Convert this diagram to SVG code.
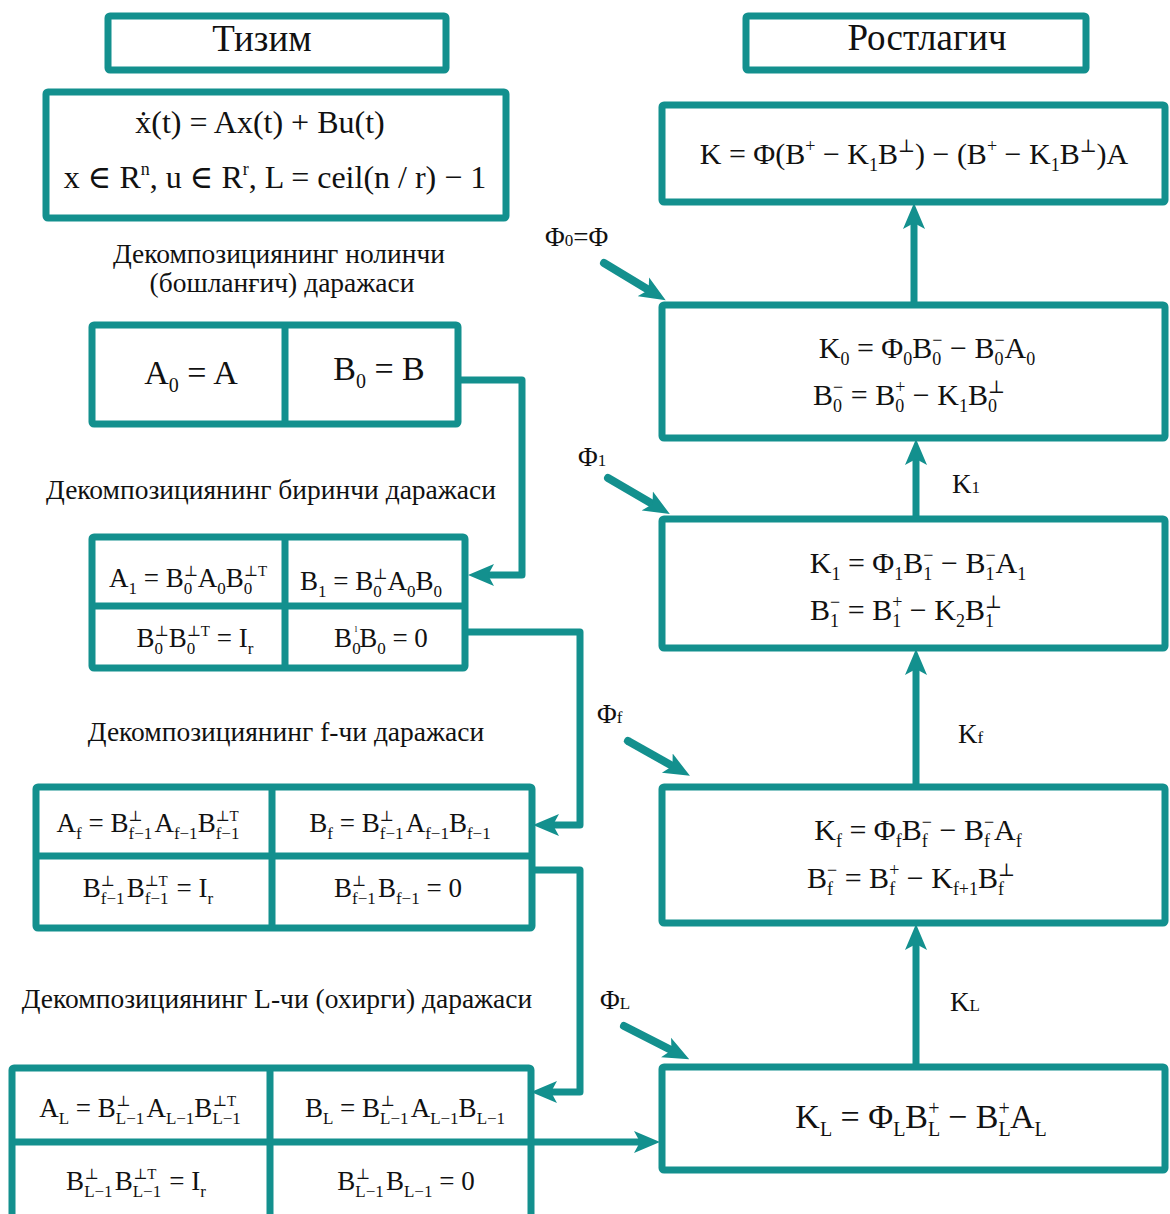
<svg xmlns="http://www.w3.org/2000/svg" width="1170" height="1214" viewBox="0 0 1170 1214">
<style>
.bx{fill:#fff;stroke:#13908e;stroke-width:7;stroke-linejoin:round}
.dv{fill:none;stroke:#13908e;stroke-width:7}
.ln{fill:none;stroke:#13908e;stroke-width:7;stroke-linejoin:round}
.dg{fill:none;stroke:#13908e;stroke-width:8;stroke-linecap:round}
text{font-family:"Liberation Serif","DejaVu Serif",serif;fill:#111}
.t36{font-size:37px}
.h{font-size:27.5px}
.fm{font-size:30px}
.ix{font-size:18px}
.fk{font-size:32px}
.fL{font-size:34px}
.iL{font-size:20px}
.fa{font-size:34px}
.ia{font-size:20px}
.fl{font-size:27px}
.ls{font-size:17px}
.lp{font-size:15px}
.lb{font-size:27px}
.lbs{font-size:17px}
</style>
<defs>
<marker id="ah" markerUnits="userSpaceOnUse" markerWidth="26" markerHeight="24" viewBox="0 0 26 24" refX="10" refY="12" orient="auto">
<path d="M0,1 L26,12 L0,23 L6,12 z" fill="#13908e"/>
</marker>
</defs>

<g id="connectors">
<polyline class="ln" points="458,380 522,380 522,575 484,575" marker-end="url(#ah)"/>
<polyline class="ln" points="465,632 580,632 580,825 549,825" marker-end="url(#ah)"/>
<polyline class="ln" points="532,870 580,870 580,1092 547,1092" marker-end="url(#ah)"/>
<line class="ln" x1="531" y1="1142" x2="644" y2="1142" marker-end="url(#ah)"/>
<line class="ln" x1="914" y1="305" x2="914" y2="219" marker-end="url(#ah)"/>
<line class="ln" x1="916" y1="519" x2="916" y2="455" marker-end="url(#ah)"/>
<line class="ln" x1="916" y1="787" x2="916" y2="665" marker-end="url(#ah)"/>
<line class="ln" x1="916" y1="1067" x2="916" y2="940" marker-end="url(#ah)"/>
<line class="dg" x1="604" y1="263" x2="652" y2="292" marker-end="url(#ah)"/>
<line class="dg" x1="608" y1="478" x2="656" y2="506" marker-end="url(#ah)"/>
<line class="dg" x1="628" y1="741" x2="676" y2="768" marker-end="url(#ah)"/>
<line class="dg" x1="624" y1="1026" x2="675" y2="1052" marker-end="url(#ah)"/>
</g>

<g id="tizim">
<rect class="bx" x="108" y="16" width="338" height="54" rx="2"/>
<text class="t36" x="262" y="51" text-anchor="middle">Тизим</text>
</g>

<g id="rostlagich">
<rect class="bx" x="746" y="16" width="340" height="54" rx="2"/>
<text class="t36" x="927" y="50" text-anchor="middle">Ростлагич</text>
</g>

<g id="system">
<rect class="bx" x="46" y="92" width="460" height="126" rx="2"/>
<text class="fk" x="260" y="133" text-anchor="middle">ẋ(t) = Ax(t) + Bu(t)</text>
<text class="fk" x="275" y="188" text-anchor="middle">x ∈ R<tspan class="ix" dy="-13">n</tspan><tspan dy="13">, u ∈ R</tspan><tspan class="ix" dy="-13">r</tspan><tspan dy="13">, L = ceil(n / r) − 1</tspan></text>
</g>

<g id="label-level0">
<text class="h" x="279" y="263" text-anchor="middle">Декомпозициянинг нолинчи</text>
<text class="h" x="282" y="292" text-anchor="middle">(бошланғич) даражаси</text>
</g>

<g id="level0">
<rect class="bx" x="92" y="325" width="366" height="99" rx="2"/>
<line class="dv" x1="285" y1="325" x2="285" y2="424"/>
<text class="fa" x="191" y="384" text-anchor="middle">A<tspan class="ia" dy="8">0</tspan><tspan dy="-8"> = A</tspan></text>
<text class="fa" x="379" y="380" text-anchor="middle">B<tspan class="ia" dy="8">0</tspan><tspan dy="-8"> = B</tspan></text>
</g>

<g id="label-level1">
<text class="h" x="271" y="499" text-anchor="middle">Декомпозициянинг биринчи даражаси</text>
</g>

<g id="level1">
<rect class="bx" x="92" y="537" width="373" height="131" rx="2"/>
<line class="dv" x1="285" y1="537" x2="285" y2="668"/>
<line class="dv" x1="92" y1="606" x2="465" y2="606"/>
<text class="fl" x="188" y="587" text-anchor="middle">A<tspan class="ls" dy="7">1</tspan><tspan dy="-7"> = B</tspan><tspan class="ls" dy="7">0</tspan><tspan class="lp" dx="-8.5" dy="-18">⊥</tspan><tspan dy="11">A</tspan><tspan class="ls" dy="7">0</tspan><tspan dy="-7">B</tspan><tspan class="ls" dy="7">0</tspan><tspan class="lp" dx="-8.5" dy="-18">⊥T</tspan></text>
<text class="fl" x="371" y="590" text-anchor="middle">B<tspan class="ls" dy="7">1</tspan><tspan dy="-7"> = B</tspan><tspan class="ls" dy="7">0</tspan><tspan class="lp" dx="-8.5" dy="-18">⊥</tspan><tspan dy="11">A</tspan><tspan class="ls" dy="7">0</tspan><tspan dy="-7">B</tspan><tspan class="ls" dy="7">0</tspan></text>
<text class="fl" x="195" y="647" text-anchor="middle">B<tspan class="ls" dy="7">0</tspan><tspan class="lp" dx="-8.5" dy="-18">⊥</tspan><tspan dy="11">B</tspan><tspan class="ls" dy="7">0</tspan><tspan class="lp" dx="-8.5" dy="-18">⊥T</tspan><tspan dy="11"> = I</tspan><tspan class="ls" dy="7">r</tspan></text>
<text class="fl" x="381" y="647" text-anchor="middle">B<tspan class="ls" dy="7">0</tspan><tspan class="lp" dx="-6" dy="-18">ˡ</tspan><tspan dx="2" dy="11">B</tspan><tspan class="ls" dy="7">0</tspan><tspan dy="-7"> = 0</tspan></text>
</g>

<g id="label-levelf">
<text class="h" x="286" y="741" text-anchor="middle">Декомпозициянинг f-чи даражаси</text>
</g>

<g id="levelf">
<rect class="bx" x="36" y="787" width="496" height="141" rx="2"/>
<line class="dv" x1="272" y1="787" x2="272" y2="928"/>
<line class="dv" x1="36" y1="856" x2="532" y2="856"/>
<text class="fl" x="148" y="832" text-anchor="middle">A<tspan class="ls" dy="7">f</tspan><tspan dy="-7"> = B</tspan><tspan class="ls" dy="7">f−1</tspan><tspan class="lp" dx="-24" dy="-18">⊥</tspan><tspan dx="12" dy="11">A</tspan><tspan class="ls" dy="7">f−1</tspan><tspan dy="-7">B</tspan><tspan class="ls" dy="7">f−1</tspan><tspan class="lp" dx="-24" dy="-18">⊥T</tspan></text>
<text class="fl" x="400" y="832" text-anchor="middle">B<tspan class="ls" dy="7">f</tspan><tspan dy="-7"> = B</tspan><tspan class="ls" dy="7">f−1</tspan><tspan class="lp" dx="-24" dy="-18">⊥</tspan><tspan dx="12" dy="11">A</tspan><tspan class="ls" dy="7">f−1</tspan><tspan dy="-7">B</tspan><tspan class="ls" dy="7">f−1</tspan></text>
<text class="fl" x="148" y="897" text-anchor="middle">B<tspan class="ls" dy="7">f−1</tspan><tspan class="lp" dx="-24" dy="-18">⊥</tspan><tspan dx="12" dy="11">B</tspan><tspan class="ls" dy="7">f−1</tspan><tspan class="lp" dx="-24" dy="-18">⊥T</tspan><tspan dx="2" dy="11"> = I</tspan><tspan class="ls" dy="7">r</tspan></text>
<text class="fl" x="398" y="897" text-anchor="middle">B<tspan class="ls" dy="7">f−1</tspan><tspan class="lp" dx="-24" dy="-18">⊥</tspan><tspan dx="12" dy="11">B</tspan><tspan class="ls" dy="7">f−1</tspan><tspan dy="-7"> = 0</tspan></text>
</g>

<g id="label-levelL">
<text class="h" x="277" y="1008" text-anchor="middle">Декомпозициянинг L-чи (охирги) даражаси</text>
</g>

<g id="levelL">
<rect class="bx" x="12" y="1068" width="519" height="160" rx="2"/>
<line class="dv" x1="270" y1="1068" x2="270" y2="1228"/>
<line class="dv" x1="12" y1="1142" x2="531" y2="1142"/>
<text class="fl" x="140" y="1117" text-anchor="middle">A<tspan class="ls" dy="7">L</tspan><tspan dy="-7"> = B</tspan><tspan class="ls" dy="7">L−1</tspan><tspan class="lp" dx="-28" dy="-18">⊥</tspan><tspan dx="16" dy="11">A</tspan><tspan class="ls" dy="7">L−1</tspan><tspan dy="-7">B</tspan><tspan class="ls" dy="7">L−1</tspan><tspan class="lp" dx="-28" dy="-18">⊥T</tspan></text>
<text class="fl" x="405" y="1117" text-anchor="middle">B<tspan class="ls" dy="7">L</tspan><tspan dy="-7"> = B</tspan><tspan class="ls" dy="7">L−1</tspan><tspan class="lp" dx="-28" dy="-18">⊥</tspan><tspan dx="16" dy="11">A</tspan><tspan class="ls" dy="7">L−1</tspan><tspan dy="-7">B</tspan><tspan class="ls" dy="7">L−1</tspan></text>
<text class="fl" x="136" y="1190" text-anchor="middle">B<tspan class="ls" dy="7">L−1</tspan><tspan class="lp" dx="-28" dy="-18">⊥</tspan><tspan dx="16" dy="11">B</tspan><tspan class="ls" dy="7">L−1</tspan><tspan class="lp" dx="-28" dy="-18">⊥T</tspan><tspan dx="6" dy="11"> = I</tspan><tspan class="ls" dy="7">r</tspan></text>
<text class="fl" x="406" y="1190" text-anchor="middle">B<tspan class="ls" dy="7">L−1</tspan><tspan class="lp" dx="-28" dy="-18">⊥</tspan><tspan dx="16" dy="11">B</tspan><tspan class="ls" dy="7">L−1</tspan><tspan dy="-7"> = 0</tspan></text>
</g>

<g id="K">
<rect class="bx" x="662" y="105" width="503" height="97" rx="2"/>
<text class="fm" x="914" y="164" text-anchor="middle">K = Φ(B<tspan class="ix" dy="-12">+</tspan><tspan dy="12"> − K</tspan><tspan class="ix" dy="7">1</tspan><tspan dy="-7">B</tspan><tspan class="ix" dy="-12">⊥</tspan><tspan dy="12">) − (B</tspan><tspan class="ix" dy="-12">+</tspan><tspan dy="12"> − K</tspan><tspan class="ix" dy="7">1</tspan><tspan dy="-7">B</tspan><tspan class="ix" dy="-12">⊥</tspan><tspan dy="12">)A</tspan></text>
</g>

<g id="K0">
<rect class="bx" x="662" y="305" width="503" height="133" rx="2"/>
<text class="fm" x="927" y="358" text-anchor="middle">K<tspan class="ix" dy="7">0</tspan><tspan dy="-7"> = Φ</tspan><tspan class="ix" dy="7">0</tspan><tspan dy="-7">B</tspan><tspan class="ix" dy="7">0</tspan><tspan class="ix" dx="-9" dy="-19">−</tspan><tspan dy="12"> − B</tspan><tspan class="ix" dy="7">0</tspan><tspan class="ix" dx="-9" dy="-19">−</tspan><tspan dy="12">A</tspan><tspan class="ix" dy="7">0</tspan></text>
<text class="fm" x="909" y="405" text-anchor="middle">B<tspan class="ix" dy="7">0</tspan><tspan class="ix" dx="-9" dy="-19">−</tspan><tspan dy="12"> = B</tspan><tspan class="ix" dy="7">0</tspan><tspan class="ix" dx="-9" dy="-19">+</tspan><tspan dy="12"> − K</tspan><tspan class="ix" dy="7">1</tspan><tspan dy="-7">B</tspan><tspan class="ix" dy="7">0</tspan><tspan class="ix" dx="-9" dy="-19">⊥</tspan></text>
</g>

<g id="K1">
<rect class="bx" x="662" y="519" width="503" height="129" rx="2"/>
<text class="fm" x="918" y="573" text-anchor="middle">K<tspan class="ix" dy="7">1</tspan><tspan dy="-7"> = Φ</tspan><tspan class="ix" dy="7">1</tspan><tspan dy="-7">B</tspan><tspan class="ix" dy="7">1</tspan><tspan class="ix" dx="-9" dy="-19">−</tspan><tspan dy="12"> − B</tspan><tspan class="ix" dy="7">1</tspan><tspan class="ix" dx="-9" dy="-19">−</tspan><tspan dy="12">A</tspan><tspan class="ix" dy="7">1</tspan></text>
<text class="fm" x="906" y="620" text-anchor="middle">B<tspan class="ix" dy="7">1</tspan><tspan class="ix" dx="-9" dy="-19">−</tspan><tspan dy="12"> = B</tspan><tspan class="ix" dy="7">1</tspan><tspan class="ix" dx="-9" dy="-19">+</tspan><tspan dy="12"> − K</tspan><tspan class="ix" dy="7">2</tspan><tspan dy="-7">B</tspan><tspan class="ix" dy="7">1</tspan><tspan class="ix" dx="-9" dy="-19">⊥</tspan></text>
</g>

<g id="Kf">
<rect class="bx" x="662" y="787" width="503" height="136" rx="2"/>
<text class="fm" x="918" y="840" text-anchor="middle">K<tspan class="ix" dy="7">f</tspan><tspan dy="-7"> = Φ</tspan><tspan class="ix" dy="7">f</tspan><tspan dy="-7">B</tspan><tspan class="ix" dy="7">f</tspan><tspan class="ix" dx="-6" dy="-19">−</tspan><tspan dy="12"> − B</tspan><tspan class="ix" dy="7">f</tspan><tspan class="ix" dx="-6" dy="-19">−</tspan><tspan dy="12">A</tspan><tspan class="ix" dy="7">f</tspan></text>
<text class="fm" x="911" y="888" text-anchor="middle">B<tspan class="ix" dy="7">f</tspan><tspan class="ix" dx="-6" dy="-19">−</tspan><tspan dy="12"> = B</tspan><tspan class="ix" dy="7">f</tspan><tspan class="ix" dx="-6" dy="-19">+</tspan><tspan dy="12"> − K</tspan><tspan class="ix" dy="7">f+1</tspan><tspan dy="-7">B</tspan><tspan class="ix" dy="7">f</tspan><tspan class="ix" dx="-6" dy="-19">⊥</tspan></text>
</g>

<g id="KL">
<rect class="bx" x="662" y="1067" width="503" height="103" rx="2"/>
<text class="fL" x="921" y="1128" text-anchor="middle">K<tspan class="iL" dy="8">L</tspan><tspan dy="-8"> = Φ</tspan><tspan class="iL" dy="8">L</tspan><tspan dy="-8">B</tspan><tspan class="iL" dy="8">L</tspan><tspan class="iL" dx="-12" dy="-21">+</tspan><tspan dy="13"> − B</tspan><tspan class="iL" dy="8">L</tspan><tspan class="iL" dx="-12" dy="-21">+</tspan><tspan dy="13">A</tspan><tspan class="iL" dy="8">L</tspan></text>
</g>

<g id="labels">
<text class="lb" x="545" y="246">Φ<tspan class="lbs">0</tspan>=Φ</text>
<text class="lb" x="578" y="466">Φ<tspan class="lbs">1</tspan></text>
<text class="lb" x="952" y="493">K<tspan class="lbs">1</tspan></text>
<text class="lb" x="597" y="723">Φ<tspan class="lbs">f</tspan></text>
<text class="lb" x="958" y="743">K<tspan class="lbs">f</tspan></text>
<text class="lb" x="600" y="1009">Φ<tspan class="lbs">L</tspan></text>
<text class="lb" x="950" y="1011">K<tspan class="lbs">L</tspan></text>
</g>
</svg>
